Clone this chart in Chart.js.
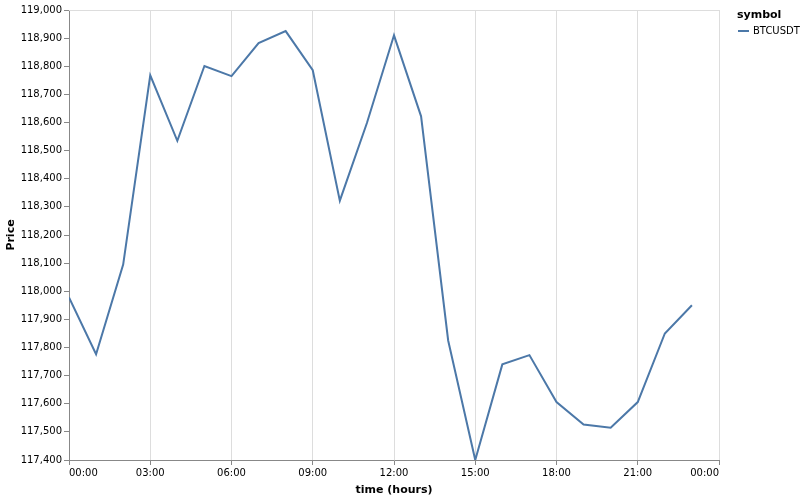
<!DOCTYPE html>
<html lang="en">
<head>
<meta charset="UTF-8">
<title>BTCUSDT Price</title>
<script src="https://cdn.jsdelivr.net/npm/chart.js"></script>
<style>
  body { margin: 0; background: #fff; }
  #wrap { width: 805px; height: 497px; }
</style>
</head>
<body>
<div id="wrap"><canvas id="priceChart" width="805" height="497"></canvas></div>
<script>
// hour of day for each sample
const hours = [0, 1, 2, 3, 4, 5, 6, 7, 8, 9, 10, 11, 12, 13, 14, 15, 16, 17, 18, 19, 20, 21, 22, 23];
// BTCUSDT price
const prices = [117978, 117776, 118095, 118768, 118535, 118801, 118765, 118882, 118925, 118786,
                118322, 118598, 118910, 118622, 117825, 117400, 117740, 117773, 117606, 117526,
                117515, 117606, 117850, 117950];
const seriesName = 'BTCUSDT';
const legendTitle = 'symbol';

const FONT = 'DejaVu Sans';
const LINE = '#4c78a8';

function hourLabel(v) {
  const h = v % 24;
  return (h < 10 ? '0' : '') + h + ':00';
}

// top border of the plot and the legend on the right
const extras = {
  id: 'extras',
  afterDraw(chart) {
    const c = chart.ctx;
    const a = chart.chartArea;
    c.save();
    c.strokeStyle = '#ddd';
    c.lineWidth = 1;
    c.beginPath();
    c.moveTo(a.left, a.top + 0.5);
    c.lineTo(a.right, a.top + 0.5);
    c.stroke();

    const lx = a.right + 18;
    c.fillStyle = '#000';
    c.textBaseline = 'middle';
    c.textAlign = 'left';
    c.font = 'bold 11px "' + FONT + '"';
    c.fillText(legendTitle, lx, 15);
    c.strokeStyle = LINE;
    c.lineWidth = 2;
    c.beginPath();
    c.moveTo(lx + 1, 31);
    c.lineTo(lx + 12, 31);
    c.stroke();
    c.font = '10px "' + FONT + '"';
    c.fillText(seriesName, lx + 16, 31);
    c.restore();
  }
};

const ctx = document.getElementById('priceChart').getContext('2d');
new Chart(ctx, {
  type: 'line',
  data: {
    datasets: [{
      label: seriesName,
      data: hours.map((h, i) => ({ x: h, y: prices[i] })),
      borderColor: LINE,
      borderWidth: 2,
      pointRadius: 0,
      tension: 0,
      fill: false
    }]
  },
  options: {
    responsive: false,
    animation: false,
    layout: { padding: { top: 10, right: 86, left: 0, bottom: 0 } },
    plugins: { legend: { display: false }, tooltip: { enabled: false } },
    scales: {
      x: {
        type: 'linear',
        min: 0,
        max: 24,
        afterFit(s) { s.height = 37; },
        ticks: {
          stepSize: 3,
          align: 'inner',
          maxRotation: 0,
          padding: 2,
          color: '#000',
          font: { family: FONT, size: 10 },
          callback: v => hourLabel(v)
        },
        grid: { color: '#ddd', tickColor: '#888', tickLength: 5 },
        border: { color: '#888' },
        title: {
          display: true,
          text: 'time (hours)',
          color: '#000',
          font: { family: FONT, size: 11, weight: 'bold' },
          padding: { top: 0, bottom: 0 }
        }
      },
      y: {
        min: 117400,
        max: 119000,
        afterFit(s) { s.width = 69; },
        ticks: {
          stepSize: 100,
          padding: 2,
          color: '#000',
          font: { family: FONT, size: 10 },
          callback: v => v.toLocaleString('en-US')
        },
        grid: { drawOnChartArea: false, tickColor: '#888', tickLength: 5 },
        border: { color: '#888' },
        title: {
          display: true,
          text: 'Price',
          color: '#000',
          font: { family: FONT, size: 11, weight: 'bold' },
          padding: { top: 5, bottom: 0 }
        }
      }
    }
  },
  plugins: [extras]
});
</script>
</body>
</html>
